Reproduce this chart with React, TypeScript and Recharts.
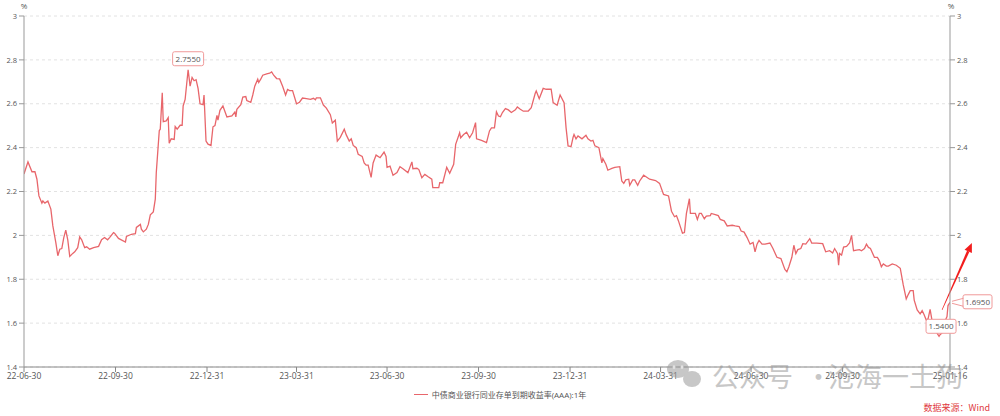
import React from 'react';
import {
  LineChart,
  Line,
  XAxis,
  YAxis,
  CartesianGrid,
  Legend,
  ReferenceDot,
  ReferenceLine,
} from 'recharts';

const SERIES_NAME = '中债商业银行同业存单到期收益率(AAA):1年';

const DATES: string[] = [
  '2022-06-30','2022-07-04','2022-07-08','2022-07-11','2022-07-13','2022-07-15','2022-07-18','2022-07-19','2022-07-21','2022-07-24','2022-07-27','2022-07-29',
  '2022-08-01','2022-08-03','2022-08-05','2022-08-07','2022-08-09','2022-08-11','2022-08-13','2022-08-15','2022-08-18','2022-08-20','2022-08-23','2022-08-25','2022-08-27','2022-08-30',
  '2022-09-01','2022-09-04','2022-09-08','2022-09-13','2022-09-16','2022-09-19','2022-09-22','2022-09-24','2022-09-28','2022-09-29',
  '2022-10-03','2022-10-10','2022-10-11','2022-10-16','2022-10-20','2022-10-21','2022-10-25','2022-10-26','2022-10-28','2022-10-31',
  '2022-11-02','2022-11-04','2022-11-07','2022-11-09','2022-11-10','2022-11-13','2022-11-14','2022-11-16','2022-11-17','2022-11-20','2022-11-22','2022-11-23','2022-11-25','2022-11-28','2022-11-29',
  '2022-12-01','2022-12-04','2022-12-06','2022-12-07','2022-12-09','2022-12-12','2022-12-14','2022-12-16','2022-12-18','2022-12-20','2022-12-22','2022-12-24','2022-12-27','2022-12-28','2022-12-30',
  '2023-01-01','2023-01-04','2023-01-06','2023-01-08','2023-01-10','2023-01-11','2023-01-13','2023-01-16','2023-01-20','2023-01-25','2023-01-28','2023-01-29','2023-01-30',
  '2023-02-03','2023-02-05','2023-02-08','2023-02-09','2023-02-13','2023-02-15','2023-02-17','2023-02-20','2023-02-21','2023-02-23','2023-02-25',
  '2023-03-01','2023-03-04','2023-03-06','2023-03-08','2023-03-11','2023-03-14','2023-03-17','2023-03-20','2023-03-22','2023-03-24','2023-03-27','2023-03-31',
  '2023-04-03','2023-04-06','2023-04-10','2023-04-14','2023-04-17','2023-04-19','2023-04-20','2023-04-24','2023-04-27','2023-04-30',
  '2023-05-04','2023-05-06','2023-05-09','2023-05-11','2023-05-14','2023-05-18','2023-05-20','2023-05-23','2023-05-25','2023-05-27','2023-05-30',
  '2023-06-01','2023-06-05','2023-06-07','2023-06-09','2023-06-11','2023-06-14','2023-06-16','2023-06-19','2023-06-23','2023-06-27','2023-06-29','2023-06-30',
  '2023-07-03','2023-07-06','2023-07-10','2023-07-13','2023-07-16','2023-07-21','2023-07-25','2023-07-26','2023-07-30',
  '2023-08-01','2023-08-04','2023-08-07','2023-08-10','2023-08-14','2023-08-15','2023-08-21','2023-08-22','2023-08-25','2023-08-29',
  '2023-09-01','2023-09-05','2023-09-07','2023-09-11','2023-09-12','2023-09-15','2023-09-18','2023-09-21','2023-09-24','2023-09-27','2023-09-28',
  '2023-10-03','2023-10-08','2023-10-11','2023-10-13','2023-10-16','2023-10-18','2023-10-20','2023-10-22','2023-10-24','2023-10-27','2023-10-30',
  '2023-11-02','2023-11-06','2023-11-08','2023-11-11','2023-11-14','2023-11-19','2023-11-22','2023-11-26','2023-11-27','2023-11-30',
  '2023-12-04','2023-12-07','2023-12-12','2023-12-14','2023-12-18','2023-12-21','2023-12-25','2023-12-27','2023-12-29',
  '2024-01-01','2024-01-03','2024-01-04','2024-01-06','2024-01-08','2024-01-12','2024-01-16','2024-01-18','2024-01-21','2024-01-23','2024-01-25','2024-01-29',
  '2024-02-01','2024-02-02','2024-02-05','2024-02-07','2024-02-11','2024-02-14','2024-02-19','2024-02-21','2024-02-23','2024-02-25','2024-02-28','2024-02-29',
  '2024-03-03','2024-03-05','2024-03-08','2024-03-10','2024-03-14','2024-03-16','2024-03-20','2024-03-26','2024-03-30',
  '2024-04-03','2024-04-08','2024-04-11','2024-04-14','2024-04-16','2024-04-18','2024-04-22','2024-04-24','2024-04-26','2024-04-29','2024-04-30',
  '2024-05-05','2024-05-07','2024-05-09','2024-05-11','2024-05-14','2024-05-16','2024-05-20','2024-05-21','2024-05-25','2024-05-28','2024-05-30',
  '2024-06-03','2024-06-06','2024-06-11','2024-06-14','2024-06-18','2024-06-20','2024-06-23','2024-06-26','2024-06-29',
  '2024-07-02','2024-07-04','2024-07-06','2024-07-08','2024-07-11','2024-07-14','2024-07-19','2024-07-22','2024-07-26','2024-07-30',
  '2024-08-03','2024-08-05','2024-08-07','2024-08-10','2024-08-12','2024-08-14','2024-08-16','2024-08-19','2024-08-21','2024-08-24','2024-08-28','2024-08-30',
  '2024-09-04','2024-09-10','2024-09-13','2024-09-17','2024-09-20','2024-09-22','2024-09-25','2024-09-26','2024-09-27','2024-09-29',
  '2024-10-01','2024-10-04','2024-10-07','2024-10-09','2024-10-11','2024-10-14','2024-10-17','2024-10-19','2024-10-22','2024-10-24','2024-10-26','2024-10-28',
  '2024-11-01','2024-11-04','2024-11-06','2024-11-08','2024-11-10','2024-11-13','2024-11-15','2024-11-19','2024-11-23','2024-11-27','2024-11-30',
  '2024-12-03','2024-12-05','2024-12-07','2024-12-10','2024-12-11','2024-12-14','2024-12-17','2024-12-19','2024-12-21','2024-12-23','2024-12-25','2024-12-27','2024-12-29',
  '2025-01-01','2025-01-03','2025-01-05','2025-01-06','2025-01-08','2025-01-10','2025-01-13','2025-01-14','2025-01-16',
];

const YIELDS: number[] = [
  2.28, 2.335, 2.29, 2.29, 2.256, 2.18, 2.147, 2.157, 2.147, 2.157, 2.12, 2.043,
  1.967, 1.907, 1.937, 1.94, 1.99, 2.024, 1.98, 1.904, 1.918, 1.925, 1.944, 1.993, 1.98, 1.944,
  1.948, 1.937, 1.944, 1.95, 1.98, 1.99, 1.98, 1.99, 2.013, 2.01,
  1.986, 1.97, 1.995, 2.005, 2.008, 2.036, 2.05, 2.028, 2.016, 2.028,
  2.05, 2.094, 2.107, 2.165, 2.287, 2.477, 2.484, 2.65, 2.518, 2.522, 2.537, 2.42, 2.44, 2.437, 2.496,
  2.484, 2.502, 2.502, 2.59, 2.62, 2.755, 2.68, 2.72, 2.705, 2.71, 2.67, 2.6, 2.596, 2.64, 2.43,
  2.416, 2.41, 2.495, 2.5, 2.547, 2.525, 2.57, 2.59, 2.54, 2.545, 2.562, 2.54, 2.575,
  2.596, 2.63, 2.633, 2.615, 2.606, 2.64, 2.68, 2.712, 2.697, 2.712, 2.73,
  2.736, 2.739, 2.745, 2.73, 2.715, 2.713, 2.68, 2.64, 2.665, 2.66, 2.66, 2.6,
  2.607, 2.626, 2.623, 2.62, 2.625, 2.618, 2.627, 2.627, 2.594, 2.58,
  2.55, 2.512, 2.525, 2.43, 2.447, 2.484, 2.458, 2.43, 2.44, 2.41, 2.4,
  2.37, 2.36, 2.33, 2.32, 2.32, 2.264, 2.33, 2.366, 2.354, 2.38, 2.36, 2.31,
  2.316, 2.274, 2.286, 2.313, 2.304, 2.286, 2.335, 2.304, 2.306,
  2.3, 2.263, 2.278, 2.268, 2.256, 2.218, 2.218, 2.24, 2.24, 2.31,
  2.283, 2.324, 2.415, 2.468, 2.445, 2.46, 2.47, 2.445, 2.468, 2.514, 2.44,
  2.433, 2.423, 2.476, 2.49, 2.49, 2.563, 2.544, 2.541, 2.56, 2.578, 2.572,
  2.56, 2.572, 2.585, 2.575, 2.566, 2.567, 2.582, 2.648, 2.658, 2.623,
  2.67, 2.666, 2.666, 2.605, 2.593, 2.64, 2.605, 2.49, 2.408,
  2.405, 2.446, 2.46, 2.44, 2.453, 2.44, 2.456, 2.44, 2.43, 2.433, 2.408, 2.4,
  2.33, 2.35, 2.324, 2.297, 2.305, 2.31, 2.313, 2.248, 2.237, 2.253, 2.256, 2.228,
  2.253, 2.253, 2.228, 2.248, 2.274, 2.268, 2.256, 2.25, 2.237,
  2.187, 2.18, 2.11, 2.085, 2.09, 2.066, 2.01, 2.013, 2.1, 2.167, 2.1,
  2.1, 2.073, 2.1, 2.1, 2.076, 2.088, 2.09, 2.1, 2.095, 2.09, 2.073,
  2.066, 2.043, 2.046, 2.043, 2.04, 2.02, 2.015, 1.99, 1.96,
  1.968, 1.925, 1.96, 1.977, 1.96, 1.96, 1.965, 1.94, 1.9, 1.894,
  1.845, 1.834, 1.857, 1.9, 1.955, 1.917, 1.935, 1.94, 1.962, 1.96, 1.985, 1.965,
  1.965, 1.962, 1.925, 1.93, 1.92, 1.94, 1.917, 1.864, 1.917, 1.91,
  1.947, 1.95, 1.965, 2.0, 1.93, 1.933, 1.935, 1.93, 1.94, 1.96, 1.945, 1.94,
  1.9, 1.9, 1.884, 1.857, 1.87, 1.86, 1.86, 1.87, 1.864, 1.85, 1.774,
  1.71, 1.73, 1.748, 1.748, 1.705, 1.66, 1.642, 1.657, 1.638, 1.615, 1.62, 1.663, 1.61,
  1.605, 1.554, 1.54, 1.547, 1.555, 1.6, 1.63, 1.68, 1.695,
];

const X_TICK_DATES = [
  '2022-06-30', '2022-09-30', '2022-12-31', '2023-03-31', '2023-06-30', '2023-09-30',
  '2023-12-31', '2024-03-31', '2024-06-30', '2024-09-30', '2025-01-16',
];
const X_DOMAIN_DATES = ['2022-06-30', '2025-01-16'];
const Y_TICKS = [1.4, 1.6, 1.8, 2, 2.2, 2.4, 2.6, 2.8, 3];
const Y_DOMAIN = [1.4, 3];

const PEAK_DATE = '2022-12-12';
const PEAK_VALUE = 2.755;
const LOW_DATE = '2025-01-05';
const LOW_VALUE = 1.54;
const LAST_DATE = '2025-01-16';
const LAST_VALUE = 1.695;
const ARROW_FROM_DATE = '2025-01-08';
const ARROW_FROM_VALUE = 1.66;
const ARROW_TO_DATE = '2025-02-07';
const ARROW_TO_VALUE = 1.965;

const LINE_COLOR = '#e8666b';
const FONT = "'Open Sans', 'Noto Sans CJK SC', sans-serif";

const ts = (s: string) => Date.parse(s + 'T00:00:00Z');

const n = Math.min(DATES.length, YIELDS.length);
const data = DATES.slice(0, n).map((d, i) => ({ t: ts(d), v: YIELDS[i] }));

const pad = (x: number) => (x < 10 ? '0' + x : '' + x);
const fmtDate = (t: number) => {
  const d = new Date(t);
  return `${pad(d.getUTCFullYear() % 100)}-${pad(d.getUTCMonth() + 1)}-${pad(d.getUTCDate())}`;
};

const BoxLabel = (props: any) => {
  const { cx, cy, text, bx, by, w, h, tail } = props;
  if (cx == null || cy == null) return null;
  const x = cx + bx;
  const y = cy + by;
  return (
    <g>
      <rect x={x} y={y} width={w} height={h} rx={2} ry={2} fill="#fff" stroke="#f09a9a" strokeWidth={1} />
      {tail ? (
        <path
          d={`M ${x + 0.5} ${cy - 4} L ${cx + 2} ${cy - 1} M ${cx + 2} ${cy + 1} L ${x + 0.5} ${cy + 4}`}
          stroke="#f09a9a"
          strokeWidth={1}
          fill="none"
        />
      ) : null}
      <text
        x={x + w / 2}
        y={y + h / 2 + 3}
        textAnchor="middle"
        fontSize={8}
        fill="#555"
        fontFamily={FONT}
      >
        {text}
      </text>
    </g>
  );
};

const Arrow = (props: any) => {
  const { x1, y1, x2, y2 } = props;
  if ([x1, y1, x2, y2].some((v) => v == null || isNaN(v))) return null;
  const ang = Math.atan2(y2 - y1, x2 - x1);
  const ux = Math.cos(ang);
  const uy = Math.sin(ang);
  const px = -uy;
  const py = ux;
  const headLen = 9;
  const headW = 4;
  const bx = x2 - ux * headLen;
  const by = y2 - uy * headLen;
  const w0 = 0.3;
  const w1 = 1.3;
  const body = [
    [x1 + px * w0, y1 + py * w0],
    [bx + px * w1, by + py * w1],
    [bx - px * w1, by - py * w1],
    [x1 - px * w0, y1 - py * w0],
  ]
    .map((p) => p.join(','))
    .join(' ');
  const head = [
    [x2, y2],
    [bx + px * headW, by + py * headW],
    [bx - px * headW, by - py * headW],
  ]
    .map((p) => p.join(','))
    .join(' ');
  return (
    <g>
      <polygon points={body} fill="#f21d1d" />
      <polygon points={head} fill="#f21d1d" />
    </g>
  );
};

const LegendContent = () => (
  <div
    style={{
      display: 'flex',
      justifyContent: 'center',
      alignItems: 'center',
      height: 14,
      fontSize: 8,
      color: '#555',
      fontFamily: FONT,
    }}
  >
    <span
      style={{
        display: 'inline-block',
        width: 14,
        height: 0,
        borderTop: `1.5px solid ${LINE_COLOR}`,
        marginRight: 4,
      }}
    />
    <span>{SERIES_NAME}</span>
  </div>
);

export default function App() {
  return (
    <div
      style={{
        position: 'absolute',
        left: 0,
        top: 0,
        width: 1000,
        height: 416,
        background: '#fff',
        fontFamily: FONT,
        overflow: 'hidden',
      }}
    >
      <LineChart
        width={1000}
        height={416}
        data={data}
        margin={{ top: 16, right: 0, left: 0, bottom: 15 }}
      >
        <CartesianGrid yAxisId="left" vertical={false} stroke="#e2e2e2" strokeDasharray="3 3" />
        <XAxis
          dataKey="t"
          type="number"
          domain={[ts(X_DOMAIN_DATES[0]), ts(X_DOMAIN_DATES[1])]}
          ticks={X_TICK_DATES.map(ts)}
          tickFormatter={fmtDate}
          interval={0}
          height={20}
          tickSize={5}
          tickMargin={1}
          stroke="#888"
          tick={{ fontSize: 8.5, fill: '#555', fontFamily: FONT }}
          allowDataOverflow
        />
        <YAxis
          yAxisId="left"
          orientation="left"
          width={24}
          domain={Y_DOMAIN}
          ticks={Y_TICKS}
          interval={0}
          tickSize={5}
          tickMargin={2}
          stroke="#999"
          tick={{ fontSize: 7.5, fill: '#555', fontFamily: FONT }}
          allowDataOverflow
        />
        <YAxis
          yAxisId="right"
          orientation="right"
          width={50}
          domain={Y_DOMAIN}
          ticks={Y_TICKS}
          interval={0}
          tickSize={5}
          tickMargin={2}
          stroke="#999"
          tick={{ fontSize: 7.5, fill: '#555', fontFamily: FONT }}
          allowDataOverflow
        />
        <Legend verticalAlign="bottom" height={14} content={LegendContent} />
        <Line
          yAxisId="left"
          type="linear"
          dataKey="v"
          name={SERIES_NAME}
          stroke={LINE_COLOR}
          strokeWidth={1.3}
          dot={false}
          activeDot={false}
          isAnimationActive={false}
        />
        <ReferenceDot
          yAxisId="left"
          x={ts(PEAK_DATE)}
          y={PEAK_VALUE}
          ifOverflow="visible"
          shape={(p: any) => (
            <BoxLabel cx={p.cx} cy={p.cy} text={PEAK_VALUE.toFixed(4)} bx={-15.5} by={-18} w={31} h={14} />
          )}
        />
        <ReferenceDot
          yAxisId="left"
          x={ts(LOW_DATE)}
          y={LOW_VALUE}
          ifOverflow="visible"
          shape={(p: any) => (
            <BoxLabel cx={p.cx} cy={p.cy} text={LOW_VALUE.toFixed(4)} bx={-13} by={-17} w={30} h={14} />
          )}
        />
        <ReferenceDot
          yAxisId="left"
          x={ts(LAST_DATE)}
          y={LAST_VALUE}
          ifOverflow="visible"
          shape={(p: any) => (
            <BoxLabel cx={p.cx} cy={p.cy} text={LAST_VALUE.toFixed(4)} bx={13} by={-7.5} w={29} h={14} tail />
          )}
        />
        <ReferenceLine
          yAxisId="left"
          ifOverflow="visible"
          segment={[
            { x: ts(ARROW_FROM_DATE), y: ARROW_FROM_VALUE },
            { x: ts(ARROW_TO_DATE), y: ARROW_TO_VALUE },
          ]}
          shape={(p: any) => <Arrow {...p} />}
        />
      </LineChart>
      <svg
        width={1000}
        height={416}
        style={{ position: 'absolute', left: 0, top: 0, pointerEvents: 'none' }}
      >
        <text x={24} y={9} textAnchor="middle" fontSize={8} fill="#555" fontFamily={FONT}>%</text>
        <text x={951} y={9} textAnchor="middle" fontSize={8} fill="#555" fontFamily={FONT}>%</text>
        <g opacity={0.55} fill="#9a9a9a">
          <ellipse cx={678} cy={369} rx={11} ry={9} />
          <ellipse cx={692} cy={379} rx={9} ry={8} />
          <circle cx={674} cy={367} r={1.5} fill="#fff" />
          <circle cx={682} cy={367} r={1.5} fill="#fff" />
          <text x={712} y={387} fontSize={27} fontFamily="'Noto Sans CJK SC', sans-serif">公众号</text>
          <text x={805} y={387} fontSize={27} fontFamily="'Noto Sans CJK SC', sans-serif">·</text>
          <text x={828} y={387} fontSize={27} fontFamily="'Noto Sans CJK SC', sans-serif">沧海一土狗</text>
        </g>
        <text x={990} y={411} textAnchor="end" fontSize={9} fill="#e0393e" fontFamily="'Noto Sans CJK SC', sans-serif">
          数据来源：Wind
        </text>
      </svg>
    </div>
  );
}
